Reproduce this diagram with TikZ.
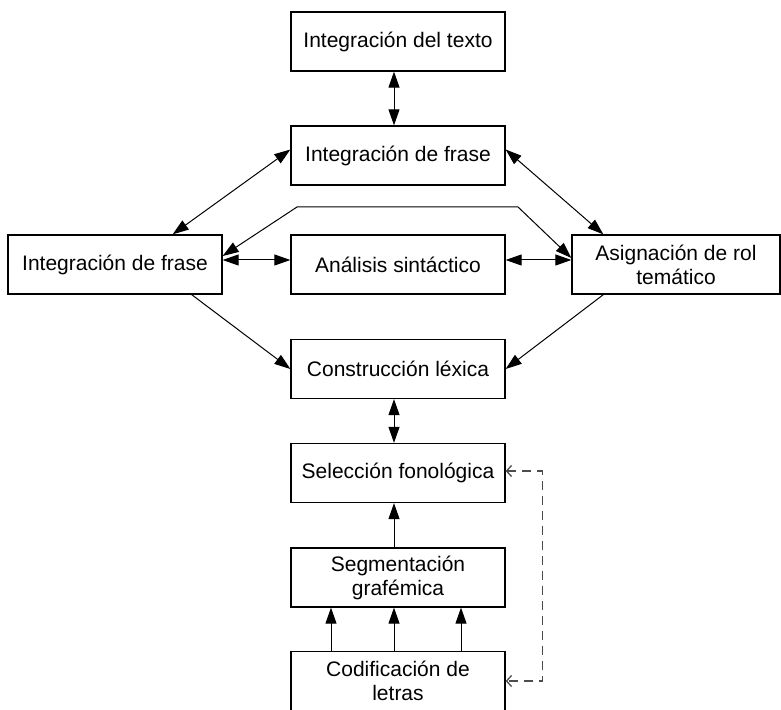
\documentclass[tikz,border=0pt]{standalone}
\usepackage{fontspec}
\setmainfont{Liberation Sans}
\usetikzlibrary{arrows.meta}
\begin{document}
\begin{tikzpicture}[x=0.5pt,y=-0.5pt,
    etapa/.style={draw, line width=0.65pt, minimum width=107pt, minimum height=29.5pt,
      inner sep=0pt, align=center, font=\fontsize{10.5}{12}\selectfont},
    flecha/.style={line width=0.5pt, -{Triangle[length=8pt,width=5.5pt]}},
    doble/.style={line width=0.5pt, {Triangle[length=8pt,width=5.5pt]}-{Triangle[length=8pt,width=5.5pt]}},
    retro/.style={line width=0.65pt, draw=black!70, dash pattern=on 4.5pt off 3pt,
      {Straight Barb[length=2.5pt,width=5.5pt]}-{Straight Barb[length=2.5pt,width=5.5pt]}}]
  \useasboundingbox (0,0) rectangle (781,710);
  %stages
  \node[etapa] (texto)  at (398,41.5)  {Integración del texto};
  \node[etapa] (fraseA) at (398,155.5) {Integración de frase};
  \node[etapa] (izq)    at (115,264.5) {Integración de frase};
  \node[etapa] (anal)   at (398,264.5) {Análisis sintáctico};
  \node[etapa, minimum width=104pt] (rol) at (676,264.5) {Asignación de rol\\temático};
  \node[etapa] (lex)    at (398,369)   {Construcción léxica};
  \node[etapa] (fono)   at (398,473)   {Selección fonológica};
  \node[etapa] (graf)   at (398,577.5) {Segmentación\\grafémica};
  \node[etapa] (letras) at (398,681)   {Codificación de\\letras};
  %upper links
  \draw[doble] ([xshift=-2pt]texto.south) -- ([xshift=-2pt]fraseA.north);
  \draw[doble] ([yshift=3pt]fraseA.west) -- ([xshift=-25pt]izq.north east);
  \draw[doble] ([yshift=3pt]fraseA.east) -- ([xshift=16pt]rol.north west);
  %middle row
  \coordinate (arco1) at (297,207);
  \coordinate (arco2) at (518,207);
  \draw[doble] ([yshift=4.25pt]izq.east) -- (arco1) -- (arco2) -- ([yshift=3.25pt]rol.west);
  \draw[doble] ([yshift=2.25pt]izq.east) -- ([yshift=2.25pt]anal.west);
  \draw[doble] ([yshift=2.25pt]anal.east) -- ([yshift=2.25pt]rol.west);
  \draw[flecha] ([xshift=-15.5pt]izq.south east) -- (lex.west);
  \draw[flecha] ([xshift=16pt]rol.south west) -- (lex.east);
  %lower chain
  \draw[doble] ([xshift=-2pt]lex.south) -- ([xshift=-2pt]fono.north);
  \draw[flecha] ([xshift=-2pt]graf.north) -- ([xshift=-2pt]fono.south);
  \foreach \dx in {-33.5,-2,31.5}
    \draw[flecha] ([xshift=\dx pt]letras.north) -- ([xshift=\dx pt]graf.south);
  \draw[retro] ([yshift=1pt]fono.east) -- ++(37,0) |- (letras.east);
\end{tikzpicture}
\end{document}
